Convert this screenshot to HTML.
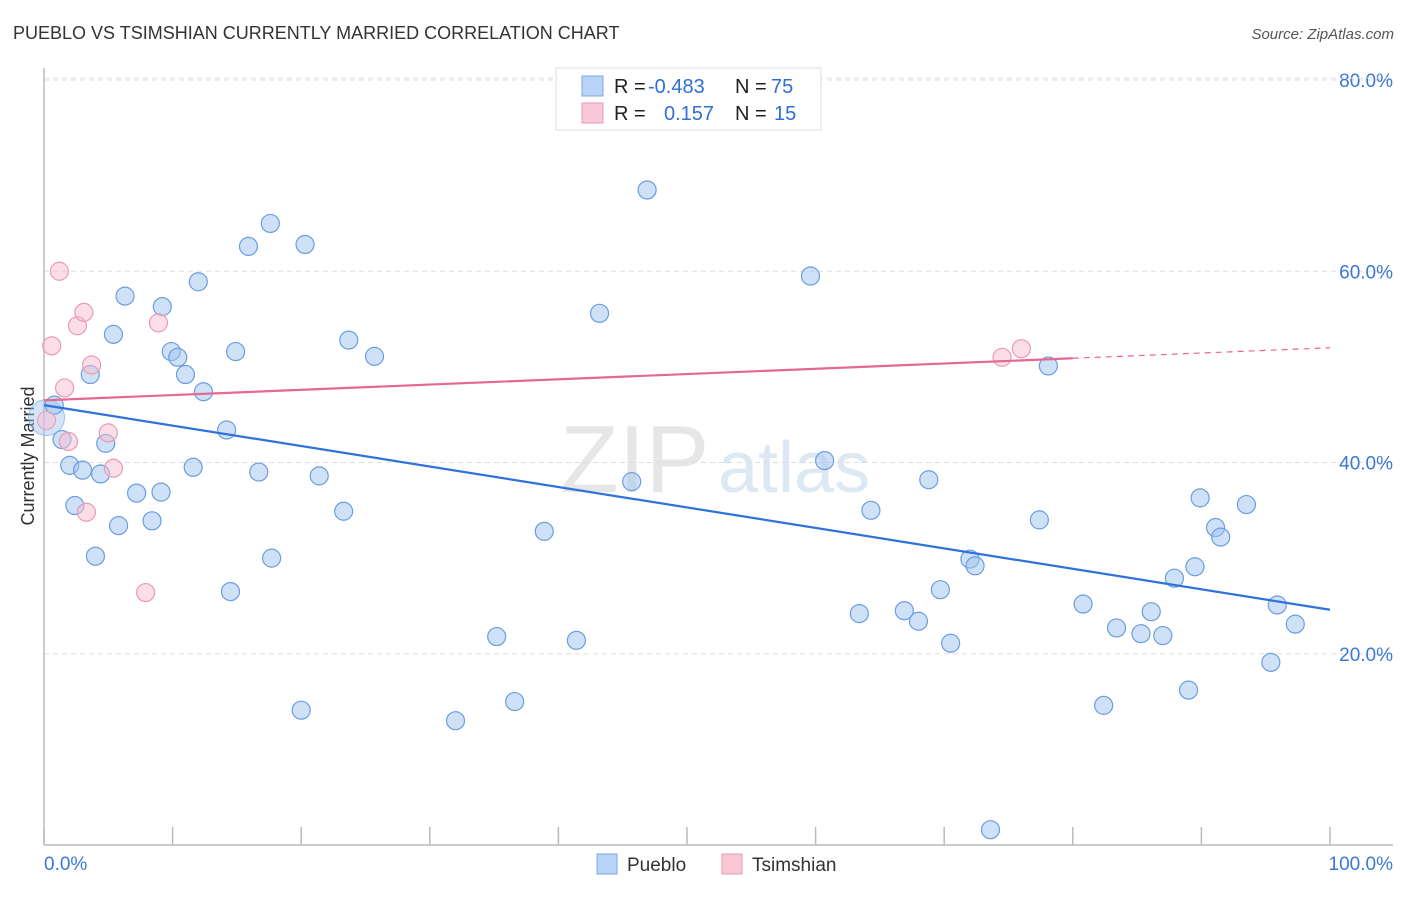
<!DOCTYPE html>
<html><head><meta charset="utf-8"><style>
body{margin:0;background:#fff;font-family:"Liberation Sans",sans-serif;}
svg text{font-family:"Liberation Sans",sans-serif;}
</style></head><body>
<svg id="chart" width="1406" height="892" xmlns="http://www.w3.org/2000/svg">
<text x="13" y="39" font-size="18" fill="#333">PUEBLO VS TSIMSHIAN CURRENTLY MARRIED CORRELATION CHART</text>
<text x="1394" y="39" font-size="15" fill="#555" font-style="italic" text-anchor="end">Source: ZipAtlas.com</text>
<text x="560" y="492" font-size="96" fill="#e6e6e6" font-family="Liberation Serif">ZIP</text>
<text x="718" y="492" font-size="72" fill="#dde8f5">atlas</text>
<text transform="translate(34,456) rotate(-90)" font-size="18" fill="#333" text-anchor="middle">Currently Married</text>
<g id="grid"></g><g id="axes"></g><g id="points"></g><g id="trends"></g>
<g>
<rect x="556" y="68" width="265" height="62" fill="#fff" stroke="#ddd"/>
<rect x="582" y="76" width="21" height="20" fill="#b8d3f5" stroke="#7aa8e6"/>
<rect x="582" y="103" width="21" height="20" fill="#f9c8d6" stroke="#ee9ab3"/>
<text y="93" font-size="20" fill="#222"><tspan x="614">R =</tspan><tspan x="648" fill="#2f6fd6">-0.483</tspan><tspan x="735">N =</tspan><tspan x="771" fill="#2f6fd6">75</tspan></text>
<text y="120" font-size="20" fill="#222"><tspan x="614">R =</tspan><tspan fill="#2f6fd6" x="664">0.157</tspan><tspan x="735">N =</tspan><tspan fill="#2f6fd6" x="774">15</tspan></text>
</g>
<g>
<rect x="597" y="854" width="20" height="20" fill="#b8d3f5" stroke="#7aa8e6"/>
<text x="627" y="871" font-size="19" fill="#333">Pueblo</text>
<rect x="722" y="854" width="20" height="20" fill="#f9c8d6" stroke="#ee9ab3"/>
<text x="752" y="871" font-size="19" fill="#333">Tsimshian</text>
</g>
</svg>
<script>
const yTicks=[20,40,60,80];
const yTickLabels=["20.0%","40.0%","60.0%","80.0%"];
const xTicks=[0,10,20,30,40,50,60,70,80,90,100];
const xEndLabels=["0.0%","100.0%"];
const puebloX=[0.8,1.4,2.0,3.0,2.4,3.6,4.4,4.0,4.8,5.4,5.8,6.3,7.2,8.4,9.1,9.2,9.9,10.4,11.0,11.6,12.0,12.4,14.2,14.5,14.9,15.9,16.7,17.6,17.7,20.0,20.3,21.4,23.3,23.7,25.7,32.0,35.2,36.6,38.9,41.4,43.2,45.7,46.9,59.6,60.7,63.4,64.3,66.9,68.0,68.8,69.7,70.5,72.0,72.4,73.6,77.4,78.1,80.8,82.4,83.4,85.3,86.1,87.0,87.9,89.0,89.5,89.9,91.1,91.5,93.5,95.4,95.9,97.3];
const puebloY=[46.0,42.4,39.7,39.2,35.5,49.2,38.8,30.2,42.0,53.4,33.4,57.4,36.8,33.9,36.9,56.3,51.6,51.0,49.2,39.5,58.9,47.4,43.4,26.5,51.6,62.6,39.0,65.0,30.0,14.1,62.8,38.6,34.9,52.8,51.1,13.0,21.8,15.0,32.8,21.4,55.6,38.0,68.5,59.5,40.2,24.2,35.0,24.5,23.4,38.2,26.7,21.1,29.9,29.2,1.6,34.0,50.1,25.2,14.6,22.7,22.1,24.4,21.9,27.9,16.2,29.1,36.3,33.2,32.2,35.6,19.1,25.1,23.1];
const tsimX=[1.2,0.6,2.6,3.1,1.6,3.7,1.9,5.0,5.4,3.3,8.9,7.9,74.5,76.0];
const tsimY=[60.0,52.2,54.3,55.7,47.8,50.2,42.2,43.1,39.4,34.8,54.6,26.4,51.0,51.9];
const puebloTrend=[46.0,24.6];
const tsimTrend=[46.5,50.9,52.0];
const tsimTrendSolidEnd=80;
const NS="http://www.w3.org/2000/svg";
const X=v=>44+v*12.86, Y=v=>845-v*9.5625;
function mk(tag,attrs,parent){const e=document.createElementNS(NS,tag);for(const k in attrs)e.setAttribute(k,attrs[k]);parent.appendChild(e);return e;}
const gridG=document.getElementById('grid'),axesG=document.getElementById('axes'),ptsG=document.getElementById('points'),trG=document.getElementById('trends');
yTicks.forEach((t,i)=>{
 const l=mk('line',{x1:44,x2:1393,y1:Y(t),y2:Y(t),stroke:'#ddd','stroke-dasharray':'5,4'},gridG);
 
 
 const tx=mk('text',{x:1393,y:Y(t)+7,'font-size':19,fill:'#3b78d8','text-anchor':'end'},gridG);
 tx.textContent=yTickLabels[i];
 
 
});
const topGrid=mk('line',{x1:44,x2:1393,y1:78,y2:78,stroke:'#ddd','stroke-dasharray':'5,4'},gridG);


const ya=mk('line',{x1:44,x2:44,y1:68,y2:845,stroke:'#bbb','stroke-width':1.5},axesG);


const xa=mk('line',{x1:44,x2:1393,y1:845,y2:845,stroke:'#bbb','stroke-width':1.5},axesG);


xTicks.forEach(t=>{
 const l=mk('line',{x1:X(t),x2:X(t),y1:827,y2:845,stroke:'#bbb','stroke-width':1.5},axesG);
 
 
});
[[0,'start',44],[100,'end',1393]].forEach((o,i)=>{
 const tx=mk('text',{x:o[2],y:870,'font-size':19,fill:'#3b78d8','text-anchor':o[1]},axesG);
 tx.textContent=xEndLabels[i];
 
 
});
const big=mk('circle',{cx:X(0.2),cy:Y(44.7),r:18,fill:'rgba(160,195,240,0.45)',stroke:'rgba(110,160,225,0.6)'},ptsG);


puebloX.forEach((x,i)=>{
 const c=mk('circle',{cx:X(x),cy:Y(puebloY[i]),r:9,fill:'rgba(160,195,240,0.5)',stroke:'#6b9de0','stroke-width':1.2},ptsG);
 
 
});
tsimX.forEach((x,i)=>{
 const c=mk('circle',{cx:X(x),cy:Y(tsimY[i]),r:9,fill:'rgba(248,190,208,0.5)',stroke:'#ec9ab4','stroke-width':1.2},ptsG);
 
 
});
const tp=mk('circle',{cx:X(0.2),cy:Y(44.4),r:9,fill:'rgba(248,190,208,0.5)',stroke:'#ec9ab4'},ptsG);


const bl=mk('line',{x1:X(0),y1:Y(puebloTrend[0]),x2:X(100),y2:Y(puebloTrend[1]),stroke:'#2f72d9','stroke-width':2.2},trG);


const pl=mk('line',{x1:X(0),y1:Y(tsimTrend[0]),x2:X(tsimTrendSolidEnd),y2:Y(tsimTrend[1]),stroke:'#e5698f','stroke-width':2.2},trG);


const pd=mk('line',{x1:X(tsimTrendSolidEnd),y1:Y(tsimTrend[1]),x2:X(100),y2:Y(tsimTrend[2]),stroke:'#e5698f','stroke-width':1.2,'stroke-dasharray':'6,5'},trG);


</script>
</body></html>
